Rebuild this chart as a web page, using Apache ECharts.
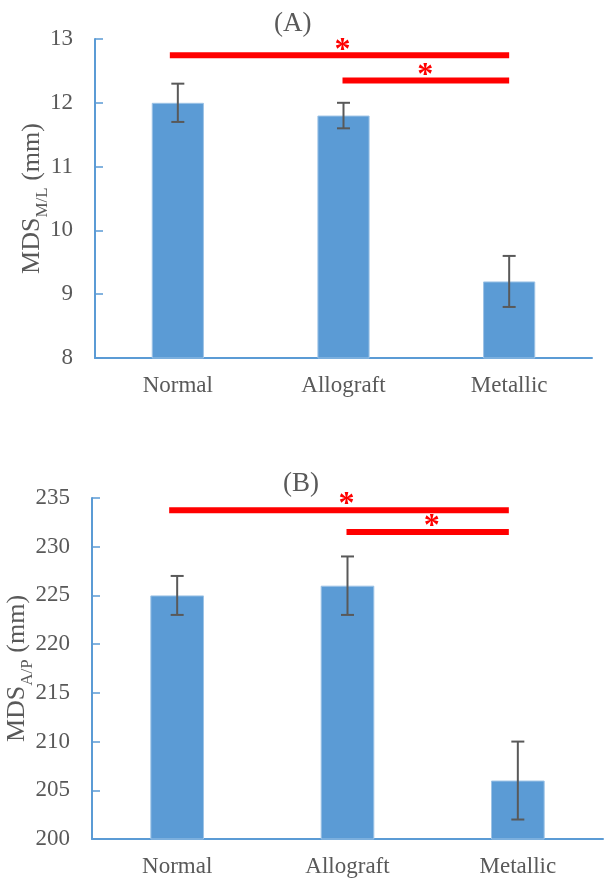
<!DOCTYPE html>
<html><head><meta charset="utf-8">
<script src="https://cdn.jsdelivr.net/npm/echarts@6/dist/echarts.min.js"></script>
<style>html,body{margin:0;padding:0;background:#fff}#c{width:605px;height:879px}</style>
</head><body><div id="c"></div>
<script>
const categories = ['Normal', 'Allograft', 'Metallic'];
// Panel A: MDS M/L (mm)
const meanA = [12.0, 11.8, 9.2];
const errA = [0.3, 0.2, 0.4];
const ticksA = [8, 9, 10, 11, 12, 13];
const sigFromA = [0, 1];
const sigToA = [2, 2];
const sigLevelA = [12.745, 12.35];
// Panel B: MDS A/P (mm)
const meanB = [225, 226, 206];
const errB = [2, 3, 4];
const ticksB = [200, 205, 210, 215, 220, 225, 230, 235];
const sigFromB = [0, 1];
const sigToB = [2, 2];
const sigLevelB = [233.75, 231.5];

const FONT = '"Liberation Serif","Times New Roman",serif';
const TXT = '#595959';
const BLUE = '#5B9BD5';

function errSeries(idx, mean, err) {
  return {
    type: 'custom', xAxisIndex: idx, yAxisIndex: idx, z: 5,
    data: mean.map((m, i) => [i, m - err[i], m + err[i]]),
    renderItem: function (params, api) {
      const lo = api.coord([api.value(0), api.value(1)]);
      const hi = api.coord([api.value(0), api.value(2)]);
      const cap = 6.5;
      const st = { stroke: '#595959', lineWidth: 2 };
      return { type: 'group', children: [
        { type: 'line', shape: { x1: lo[0], y1: lo[1], x2: hi[0], y2: hi[1] }, style: st },
        { type: 'line', shape: { x1: lo[0] - cap, y1: lo[1], x2: lo[0] + cap, y2: lo[1] }, style: st },
        { type: 'line', shape: { x1: hi[0] - cap, y1: hi[1], x2: hi[0] + cap, y2: hi[1] }, style: st }
      ]};
    }
  };
}

function sigSeries(idx, from, to, level, endOff) {
  return {
    type: 'custom', xAxisIndex: idx, yAxisIndex: idx, z: 6, clip: false,
    data: from.map((f, i) => [f, to[i], level[i]]),
    renderItem: function (params, api) {
      const f = api.value(0), t = api.value(1), y = api.value(2);
      const a = api.coord([f, y]);
      const b = api.coord([t, y]);
      const x1 = a[0] + (f === 0 ? -8 : -1);
      const x2 = b[0] + endOff;
      return { type: 'group', children: [
        { type: 'rect', shape: { x: x1, y: a[1] - 3, width: x2 - x1, height: 6 }, style: { fill: '#FF0000' } },
        { type: 'text', style: { text: '*', x: (a[0] + b[0]) / 2 - 1, y: a[1] + 11, align: 'center', verticalAlign: 'bottom',
            font: 'bold 32px ' + FONT, fill: '#FF0000' } }
      ]};
    }
  };
}

function yAxisCfg(idx, ticks, nameMain, nameSub, gap) {
  return {
    type: 'value', gridIndex: idx, min: ticks[0], max: ticks[ticks.length - 1],
    interval: ticks[1] - ticks[0],
    axisLine: { show: true, lineStyle: { color: BLUE, width: 2 } },
    axisTick: { show: true, inside: true, length: 8, lineStyle: { color: BLUE, width: 1.5 } },
    splitLine: { show: false },
    axisLabel: { color: TXT, fontFamily: FONT, fontSize: 23, margin: 22 },
    name: '{a|' + nameMain + '}{b|' + nameSub + '}{a| (mm)}',
    nameLocation: 'middle', nameGap: gap, nameMoveOverlap: false,
    nameTextStyle: { rich: {
      a: { fontFamily: FONT, fontSize: 26, color: TXT, lineHeight: 30, verticalAlign: 'bottom' },
      b: { fontFamily: FONT, fontSize: 17, color: TXT, lineHeight: 30, verticalAlign: 'bottom', padding: [0, 0, -6, 0] }
    } }
  };
}

function xAxisCfg(idx) {
  return {
    type: 'category', gridIndex: idx, data: categories,
    axisLine: { show: true, lineStyle: { color: BLUE, width: 2 } },
    axisTick: { show: false },
    axisLabel: { color: TXT, fontFamily: FONT, fontSize: 23, margin: 16 }
  };
}

const chart = echarts.init(document.getElementById('c'), null, { renderer: 'canvas' });
chart.setOption({
  animation: false,
  title: [
    { text: '(A)', left: 269, top: 5, textStyle: { fontFamily: FONT, fontSize: 27, fontWeight: 'normal', color: TXT } },
    { text: '(B)', left: 278, top: 465, textStyle: { fontFamily: FONT, fontSize: 27, fontWeight: 'normal', color: TXT } }
  ],
  grid: [
    { left: 95, top: 39, width: 497, height: 319, outerBoundsMode: 'none', containLabel: false },
    { left: 92, top: 498, width: 511, height: 341, outerBoundsMode: 'none', containLabel: false }
  ],
  xAxis: [xAxisCfg(0), xAxisCfg(1)],
  yAxis: [yAxisCfg(0, ticksA, 'MDS', 'M/L', 50), yAxisCfg(1, ticksB, 'MDS', 'A/P', 62)],
  series: [
    { type: 'bar', xAxisIndex: 0, yAxisIndex: 0, data: meanA, barWidth: '31.5%',
      itemStyle: { color: BLUE, borderColor: '#9DC3E6', borderWidth: 1 } },
    errSeries(0, meanA, errA),
    sigSeries(0, sigFromA, sigToA, sigLevelA, 0),
    { type: 'bar', xAxisIndex: 1, yAxisIndex: 1, data: meanB, barWidth: '31.5%',
      itemStyle: { color: BLUE, borderColor: '#9DC3E6', borderWidth: 1 } },
    errSeries(1, meanB, errB),
    sigSeries(1, sigFromB, sigToB, sigLevelB, -9)
  ]
});
</script></body></html>
